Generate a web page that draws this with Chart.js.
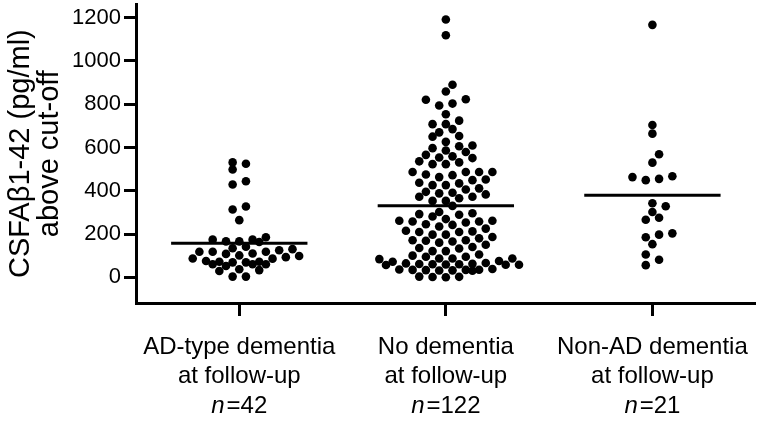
<!DOCTYPE html>
<html lang="en">
<head>
<meta charset="UTF-8">
<title>CSF Aβ1-42 above cut-off</title>
<script src="https://cdn.jsdelivr.net/npm/chart.js@4.4.0/dist/chart.umd.min.js"></script>
<style>
  html, body { margin: 0; padding: 0; background: #fff; }
  #wrap { width: 760px; height: 422px; }
</style>
</head>
<body>
<div id="wrap"><canvas id="dotChart"></canvas></div>
<script>
// group labels (two lines) and group sizes
const groupLine1 = ['AD-type dementia', 'No dementia', 'Non-AD dementia'];
const groupLine2 = ['at follow-up', 'at follow-up', 'at follow-up'];
const groupN = [42, 122, 21];

const yTicks = [0, 200, 400, 600, 800, 1000, 1200];

// CSF Abeta1-42 above cut-off (pg/ml)
const adDementia = [531, 525, 498, 444, 429, 327, 313, 264,
  185, 174, 174, 166, 166, 163, 141, 134, 130, 125, 118, 118, 118, 110,
  108, 101, 98, 93, 87, 86, 75, 72, 72, 69, 69, 60, 60, 60, 52, 37, 33, 29, 3, 3];

const noDementia = [1192, 1119, 890, 859, 823, 821, 803, 794, 754, 724, 708, 708,
  685, 670, 653, 650, 626, 609, 606, 597, 586, 579,
  566, 559, 554, 551, 536, 531, 523, 523,
  487, 487, 487, 487, 475, 472, 463, 452,
  449, 437, 434, 426, 426, 411, 406, 395, 391, 388, 383,
  372, 372, 365, 353, 353,
  330, 302, 296, 292, 289, 281, 269, 261, 261, 258, 258, 253,
  245, 242, 235, 225, 215, 212, 209, 209, 197, 197, 186,
  180, 171, 171, 169, 165, 160, 150,
  140, 135, 133, 121, 121, 105,
  100, 95, 95, 87, 87, 87, 84, 75, 72,
  66, 64, 62, 61, 60, 60, 59, 58, 58, 57,
  38, 36, 35, 34, 34, 33, 32, 31, 30,
  3, 2, 1, 0];

const nonAdDementia = [1167, 704, 664, 569, 530, 467, 463, 455, 449, 342, 328,
  302, 275, 266, 203, 197, 185, 153, 105, 81, 56];

const groups = [adDementia, noDementia, nonAdDementia];

const FONT = '"Liberation Sans", Arial, sans-serif';

function mean(arr) {
  return arr.reduce((a, b) => a + b, 0) / arr.length;
}

// Prism-style dot layout: values close together share a row, each row is
// spread sideways around the group centre, shifted half a column when that
// clashes less with the rows already placed
function rowOffsets(values, pxPerX, pxPerY) {
  const col = 13.3, rowPx = 6.5, maxRow = 11, dia = 8.6;
  const idx = values.map((v, i) => i).sort((a, b) => values[a] - values[b]);
  const rows = [];
  idx.forEach(i => {
    const last = rows[rows.length - 1];
    if (last && last.length < maxRow && (values[i] - values[last[0]]) * pxPerY < rowPx) last.push(i);
    else rows.push([i]);
  });
  const offs = [];
  const placed = [];
  rows.forEach(r => {
    const n = r.length;
    let best = null, bestCost = Infinity;
    [0, 0.5, -0.5].forEach(s => {
      const slots = [];
      for (let k = 0; k < n; k++) slots.push(k - (n - 1) / 2 + s);
      slots.sort((a, b) => Math.abs(a) - Math.abs(b) || a - b);
      let cost = 0;
      r.forEach((i, j) => {
        const px = slots[j] * col, py = values[i] * pxPerY;
        placed.forEach(p => { cost += Math.max(0, dia - Math.hypot(p.x - px, p.y - py)); });
      });
      if (cost < bestCost - 0.01) { bestCost = cost; best = slots; }
    });
    r.forEach((i, j) => {
      placed.push({ x: best[j] * col, y: values[i] * pxPerY });
      offs[i] = best[j] * col / pxPerX;
    });
  });
  return offs;
}

// "n=.." line under each group, with italic n
const nLabels = {
  id: 'nLabels',
  afterDraw(chart) {
    const ctx = chart.ctx;
    const xs = chart.scales.x;
    ctx.save();
    ctx.fillStyle = '#000';
    ctx.textAlign = 'left';
    ctx.textBaseline = 'alphabetic';
    groupN.forEach((n, i) => {
      const cx = xs.getPixelForValue(i + 1);
      ctx.font = 'italic 24px ' + FONT;
      const w1 = ctx.measureText('n').width;
      ctx.font = '24px ' + FONT;
      const rest = '=' + n;
      const w2 = ctx.measureText(rest).width;
      const gap = 2;
      const x0 = cx - (w1 + gap + w2) / 2;
      ctx.font = 'italic 24px ' + FONT;
      ctx.fillText('n', x0, 413);
      ctx.font = '24px ' + FONT;
      ctx.fillText(rest, x0 + w1 + gap, 413);
    });
    ctx.restore();
  }
};

const dotSets = groups.map((g, gi) => ({
  type: 'scatter',
  data: g.map(v => ({ x: gi + 1, y: v })),
  backgroundColor: '#000',
  borderWidth: 0,
  pointRadius: 4.3,
  pointHoverRadius: 4.3
}));

const meanSets = groups.map((g, gi) => {
  const m = mean(g);
  return {
    type: 'line',
    data: [{ x: gi + 1 - 0.33, y: m }, { x: gi + 1 + 0.33, y: m }],
    borderColor: '#000',
    borderWidth: 3,
    pointRadius: 0,
    fill: false
  };
});

const ctx = document.getElementById('dotChart').getContext('2d');
const chart = new Chart(ctx, {
  type: 'scatter',
  data: { datasets: dotSets.concat(meanSets) },
  options: {
    responsive: true,
    maintainAspectRatio: false,
    animation: false,
    layout: { padding: { top: 1, right: 0, left: 0, bottom: 0 } },
    plugins: { legend: { display: false }, tooltip: { enabled: false } },
    scales: {
      x: {
        type: 'linear',
        min: 0.5,
        max: 3.5,
        afterBuildTicks: s => { s.ticks = [1, 2, 3].map(v => ({ value: v })); },
        afterFit: s => { s.height = 119; s.paddingLeft = 0; s.paddingRight = 0; },
        ticks: {
          callback: v => [groupLine1[v - 1], groupLine2[v - 1]],
          color: '#000',
          font: { family: FONT, size: 24, lineHeight: 1.21 },
          padding: 17,
          maxRotation: 0,
          autoSkip: false
        },
        grid: {
          drawOnChartArea: false,
          drawTicks: true,
          tickLength: 13,
          tickWidth: 3,
          tickColor: '#000'
        },
        border: { color: '#000', width: 3 }
      },
      y: {
        min: -119,
        max: 1262,
        afterBuildTicks: s => { s.ticks = yTicks.map(v => ({ value: v })); },
        afterFit: s => { s.width = 136; s.paddingTop = 0; s.paddingBottom = 0; },
        ticks: {
          callback: v => String(v),
          color: '#000',
          font: { family: FONT, size: 22 },
          padding: 3
        },
        grid: {
          drawOnChartArea: false,
          drawTicks: true,
          tickLength: 12,
          tickWidth: 3,
          tickColor: '#000'
        },
        border: { color: '#000', width: 3 },
        title: {
          display: true,
          text: ['CSFAβ1-42 (pg/ml)', 'above cut-off'],
          color: '#000',
          font: { family: FONT, size: 29, lineHeight: 1.0 },
          padding: { top: 6, bottom: 0 }
        }
      }
    }
  },
  plugins: [nLabels]
});

// spread the dots once the scales are known
const xs = chart.scales.x, ys = chart.scales.y;
const pxPerX = xs.getPixelForValue(2) - xs.getPixelForValue(1);
const pxPerY = ys.getPixelForValue(0) - ys.getPixelForValue(1);
groups.forEach((g, gi) => {
  const offs = rowOffsets(g, pxPerX, pxPerY);
  chart.data.datasets[gi].data = g.map((v, i) => ({ x: gi + 1 + offs[i], y: v }));
});
chart.update('none');
</script>
</body>
</html>
